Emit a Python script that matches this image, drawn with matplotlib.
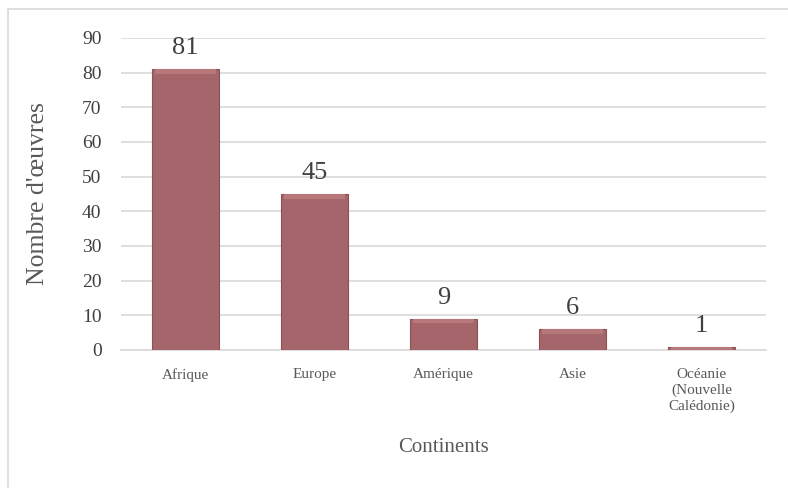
import matplotlib.pyplot as plt
from matplotlib.patches import Rectangle

continents = ["Afrique", "Europe", "Amérique", "Asie", "Océanie\n(Nouvelle\nCalédonie)"]
nb_oeuvres = [81, 45, 9, 6, 1]
yticks = [0, 10, 20, 30, 40, 50, 60, 70, 80, 90]

plt.rcParams['font.family'] = ['Liberation Serif', 'DejaVu Serif']
gris = '#404040'

W, H = 788, 488
fig = plt.figure(figsize=(W / 100, H / 100), dpi=100)

# cadre du graphique (coupe a droite et en bas)
fig.patches.append(Rectangle((8 / W, -0.1), 2, 1.1 - 9 / H, transform=fig.transFigure,
                             fill=False, edgecolor='#d9d9d9', linewidth=1.2))

ax = fig.add_axes([121 / W, 1 - 350 / H, (766 - 121) / W, (350 - 38) / H])
x = range(len(continents))
bars = ax.bar(x, nb_oeuvres, width=0.52, color='#a5666b', edgecolor='#8c5055',
              linewidth=0.8, zorder=3)

# petit effet de relief en haut des barres
for b in bars:
    h = b.get_height()
    ax.bar(b.get_x() + b.get_width() / 2, min(h, 1.3), width=b.get_width() * 0.92,
           bottom=h - min(h, 1.3), color='#b7787c', linewidth=0, zorder=4)

for i, v in enumerate(nb_oeuvres):
    ax.text(i, v + 2.8, str(v), ha='center', va='bottom', fontsize=19, color=gris)

ax.set_ylim(0, 90)
ax.set_xlim(-0.5, len(continents) - 0.5)
ax.set_yticks(yticks)
ax.set_xticks(list(x))
ax.set_xticklabels(continents, fontsize=11, color='#595959', linespacing=1.25)
ax.tick_params(axis='y', labelsize=14, labelcolor=gris, length=0, pad=14)
ax.tick_params(axis='x', length=0, pad=13)
ax.grid(axis='y', color='#d9d9d9', linewidth=1.2, zorder=0)
for s in ['top', 'right', 'left']:
    ax.spines[s].set_visible(False)
ax.spines['bottom'].set_color('#d9d9d9')
ax.spines['bottom'].set_linewidth(1.2)

ax.set_ylabel("Nombre d'œuvres", fontsize=18.5, color='#595959', labelpad=24)
ax.set_xlabel("Continents", fontsize=15, color='#595959', labelpad=18)

fig.savefig('out.png', dpi=100)
